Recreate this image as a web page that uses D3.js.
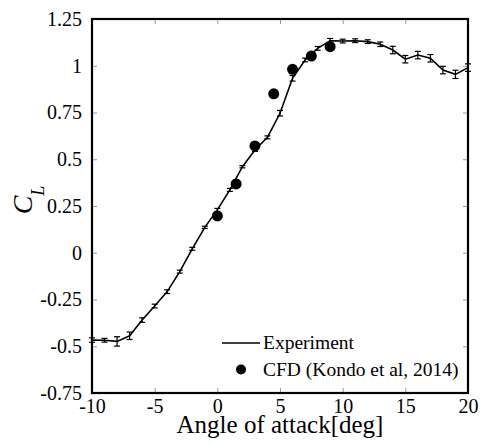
<!doctype html>
<html>
<head>
<meta charset="utf-8">
<script src="https://cdnjs.cloudflare.com/ajax/libs/d3/7.8.5/d3.min.js"></script>
<style>
  body { margin: 0; background: #fff; }
  svg { font-family: "Liberation Serif", "Times New Roman", serif; }
</style>
</head>
<body>
<svg id="chart" width="482" height="445"></svg>
<script>
// experiment: angle of attack, CL, error (half-height of bar)
var expAngle = [-10, -9, -8, -7, -6, -5, -4, -3, -2, -1, 0, 1, 2, 3, 4, 5, 6, 7, 8, 9, 10, 11, 12, 13, 14, 15, 16, 17, 18, 19, 20];
var expCL = [-0.467, -0.468, -0.474, -0.444, -0.36, -0.285, -0.208, -0.101, 0.021, 0.136, 0.229, 0.336, 0.46, 0.55, 0.617, 0.746, 0.933, 1.031, 1.093, 1.134, 1.132, 1.134, 1.129, 1.115, 1.084, 1.035, 1.057, 1.04, 0.977, 0.954, 0.99];
var expErr = [0.012, 0.01, 0.025, 0.02, 0.012, 0.01, 0.01, 0.008, 0.008, 0.006, 0.008, 0.008, 0.006, 0.008, 0.008, 0.015, 0.015, 0.01, 0.01, 0.012, 0.01, 0.01, 0.01, 0.012, 0.02, 0.02, 0.02, 0.02, 0.02, 0.022, 0.02];

// CFD (Kondo et al, 2014)
var cfdAngle = [0, 1.5, 3, 4.5, 6, 7.5, 9];
var cfdCL = [0.197, 0.368, 0.571, 0.85, 0.981, 1.052, 1.102];

var xTicks = [-10, -5, 0, 5, 10, 15, 20];
var yTicks = [-0.75, -0.5, -0.25, 0, 0.25, 0.5, 0.75, 1, 1.25];

var svg = d3.select("#chart");
var pLeft = 92, pRight = 468, pTop = 19, pBottom = 393;

var x = d3.scaleLinear().domain([-10, 20]).range([pLeft, pRight]);
var y = d3.scaleLinear().domain([-0.75, 1.25]).range([pBottom, pTop]);

var fmt = d => String(d);

// ticks, inward on all four sides
var tickLen = 5;
function styleAxis(g) {
    g.select(".domain").remove();
    g.selectAll(".tick line").attr("stroke", "#999").attr("stroke-width", 1);
    g.selectAll(".tick text").attr("fill", "#000").style("font-size", "20px")
        .style("font-family", "Liberation Serif, serif");
}

svg.append("g").attr("transform", "translate(0," + pBottom + ")")
    .call(d3.axisBottom(x).tickValues(xTicks).tickSizeInner(-tickLen).tickSizeOuter(0).tickFormat(fmt))
    .call(styleAxis)
    .call(g => g.selectAll(".tick text").attr("y", 20).attr("dy", 0));

svg.append("g").attr("transform", "translate(0," + pTop + ")")
    .call(d3.axisTop(x).tickValues(xTicks).tickSizeInner(-tickLen).tickSizeOuter(0).tickFormat(""))
    .call(styleAxis);

svg.append("g").attr("transform", "translate(" + pLeft + ",0)")
    .call(d3.axisLeft(y).tickValues(yTicks).tickSizeInner(-tickLen).tickSizeOuter(0).tickFormat(fmt))
    .call(styleAxis)
    .call(g => g.selectAll(".tick text").attr("x", -10).attr("dy", "0.32em"));

svg.append("g").attr("transform", "translate(" + pRight + ",0)")
    .call(d3.axisRight(y).tickValues(yTicks).tickSizeInner(-tickLen).tickSizeOuter(0).tickFormat(""))
    .call(styleAxis);

// experiment line
var expData = expAngle.map((a, i) => ({a: a, c: expCL[i], e: expErr[i]}));
svg.append("path")
    .datum(expData)
    .attr("fill", "none")
    .attr("stroke", "#000")
    .attr("stroke-width", 1.6)
    .attr("d", d3.line().x(d => x(d.a)).y(d => y(d.c)));

// error bars
var cap = 3;
var eb = svg.append("g").attr("stroke", "#000").attr("stroke-width", 1.2);
eb.selectAll("line.v").data(expData).enter().append("line")
    .attr("x1", d => x(d.a)).attr("x2", d => x(d.a))
    .attr("y1", d => y(d.c - d.e)).attr("y2", d => y(d.c + d.e));
eb.selectAll("line.t").data(expData).enter().append("line")
    .attr("x1", d => x(d.a) - cap).attr("x2", d => x(d.a) + cap)
    .attr("y1", d => y(d.c + d.e)).attr("y2", d => y(d.c + d.e));
eb.selectAll("line.b").data(expData).enter().append("line")
    .attr("x1", d => x(d.a) - cap).attr("x2", d => x(d.a) + cap)
    .attr("y1", d => y(d.c - d.e)).attr("y2", d => y(d.c - d.e));

// CFD dots
svg.append("g").selectAll("circle")
    .data(cfdAngle)
    .enter()
    .append("circle")
    .attr("cx", d => x(d))
    .attr("cy", (d, i) => y(cfdCL[i]))
    .attr("r", 5.5)
    .attr("fill", "#000");

// frame
svg.append("rect")
    .attr("x", pLeft).attr("y", pTop)
    .attr("width", pRight - pLeft).attr("height", pBottom - pTop)
    .attr("fill", "none").attr("stroke", "#000").attr("stroke-width", 2.2);

// legend
var lg = svg.append("g");
lg.append("line").attr("x1", 222).attr("x2", 260).attr("y1", 343).attr("y2", 343)
    .attr("stroke", "#000").attr("stroke-width", 1.6);
lg.append("text").attr("x", 263).attr("y", 349).style("font-size", "19.5px").text("Experiment");
lg.append("circle").attr("cx", 241).attr("cy", 369.5).attr("r", 5).attr("fill", "#000");
lg.append("text").attr("x", 263).attr("y", 376).style("font-size", "19.5px").text("CFD (Kondo et al, 2014)");

// axis titles
svg.append("text")
    .attr("x", (pLeft + pRight) / 2).attr("y", 433)
    .attr("text-anchor", "middle")
    .style("font-size", "25px")
    .text("Angle of attack[deg]");

var yl = svg.append("text")
    .attr("transform", "translate(32,200) rotate(-90)")
    .attr("text-anchor", "middle")
    .style("font-style", "italic");
yl.append("tspan").style("font-size", "28px").text("C");
yl.append("tspan").style("font-size", "18px").attr("dy", 12).text("L");
</script>
</body>
</html>
